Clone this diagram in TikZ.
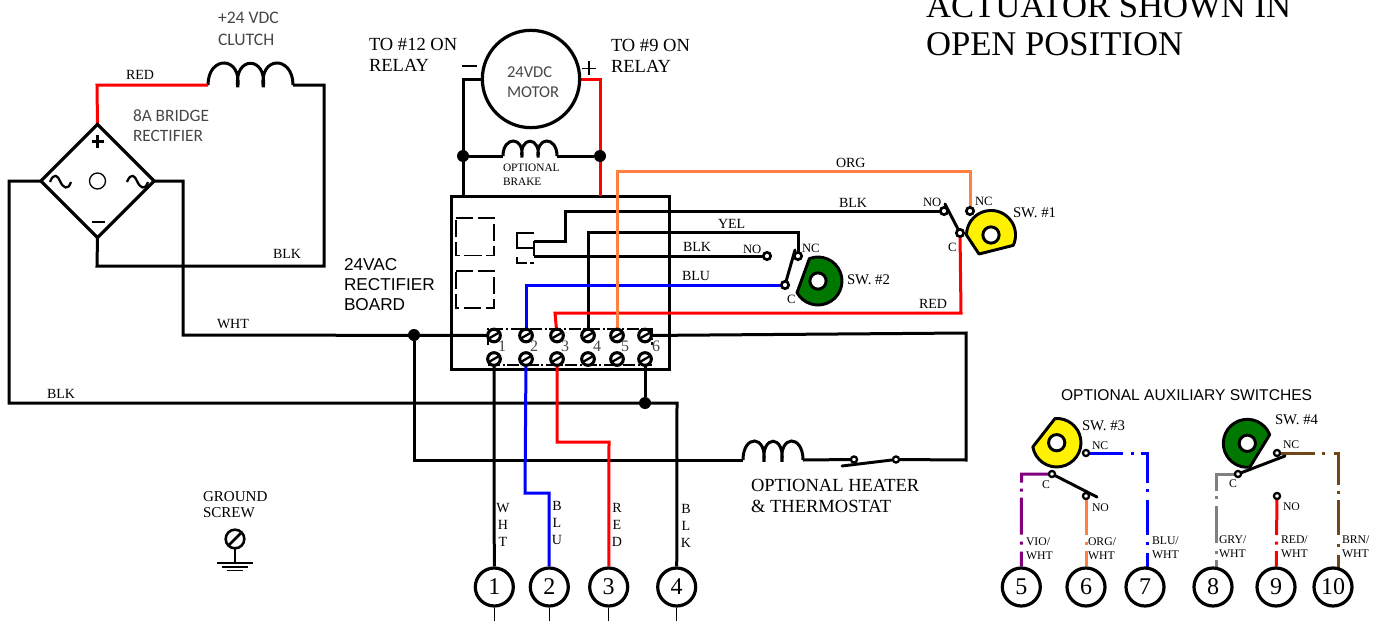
\documentclass[tikz,border=0pt]{standalone}
\usepackage{fontspec}
\setmainfont{Liberation Serif}
\setsansfont{Liberation Sans}
\newfontfamily\cadfont{Carlito}
\usetikzlibrary{shapes.geometric,backgrounds}
\definecolor{wred}{RGB}{255,0,0}
\definecolor{wblue}{RGB}{0,0,255}
\definecolor{worg}{RGB}{255,128,64}
\definecolor{wpur}{RGB}{128,0,128}
\definecolor{wgry}{RGB}{128,128,128}
\definecolor{wbrn}{RGB}{112,72,24}
\definecolor{cgreen}{RGB}{0,120,0}
\definecolor{cad}{gray}{0.28}
\newcommand{\fs}[2]{\fontsize{#1}{#2}\selectfont}
\newcommand{\coilthree}[4]{% x y width height
  \draw[wire] (#1,#2) .. controls (#1,{#2-1.35*#4}) and ({#1+.40*#3},{#2-1.35*#4}) .. ({#1+.35*#3},{#2+.1*#4})
   .. controls ({#1+.30*#3},{#2-1.35*#4}) and ({#1+.70*#3},{#2-1.35*#4}) .. ({#1+.65*#3},{#2+.1*#4})
   .. controls ({#1+.60*#3},{#2-1.35*#4}) and ({#1+1.0*#3},{#2-1.35*#4}) .. ({#1+#3},#2);}
\tikzset{
  x=0.75pt,y=-0.75pt,
  wire/.style={line width=2.25pt,line join=miter,draw=black},
  thin wire/.style={line width=0.9pt,draw=black},
  txt/.style={anchor=base west,inner sep=0pt,outer sep=0pt,align=left,text=black},
  t14/.style={txt,font=\fs{10.5}{12}},
  t18/.style={txt,font=\fs{13.9}{15.4}},
  t11/.style={txt,font=\fs{8.5}{10}},
  tsw/.style={txt,font=\fs{11.1}{12}},
  tno/.style={txt,font=\fs{9.5}{11}},
  taux/.style={txt,font=\fs{8.8}{10.2}},
  tcad/.style={txt,font=\cadfont\fs{13.2}{16},text=cad},
  tnum/.style={txt,font=\fs{12}{14},text=cad},
  tvert/.style={anchor=base,inner sep=0pt,outer sep=0pt,align=center,font=\fs{10.5}{12.4},text=black},
  bigcirc/.style={circle,draw,line width=2.4pt,fill=white,minimum size=28.5pt,inner sep=0pt,font=\fs{18}{19}},
  terminal/.style={circle,draw,line width=2.3pt,fill=white,minimum size=9.5pt,inner sep=0pt,outer sep=0pt},
  ring/.style={circle,draw,line width=2pt,fill=white,minimum size=5.5pt,inner sep=0pt,outer sep=0pt},
  ringaux/.style={circle,draw,line width=1.7pt,fill=white,minimum size=4.6pt,inner sep=0pt,outer sep=0pt},
  junction/.style={circle,fill=black,minimum size=9pt,inner sep=0pt,outer sep=0pt},
  hole/.style={circle,draw,line width=2.2pt,fill=white,minimum size=12.2pt,inner sep=0pt,outer sep=0pt},
  cam/.style={draw,line width=2.2pt,line join=round},
  blade/.style={line width=2.2pt,line cap=round},
  dbox/.style={line width=1.1pt,dash pattern=on 13pt off 3.5pt}
}
\begin{document}
\begin{tikzpicture}
\useasboundingbox (0,0) rectangle (1374,621);
% ---------- texts
\node[txt,font=\fs{26}{30}] (title1) at (926,17) {ACTUATOR SHOWN IN};
\node[txt,font=\fs{26}{30}] (title2) at (926,55) {OPEN POSITION};
\node[tcad] (clutchlbl) at (218,45) {+24 VDC\\CLUTCH};
\node[tcad,font=\cadfont\fs{13}{15}] (bridgelbl) at (133,141) {8A BRIDGE\\RECTIFIER};
\node[tcad,font=\cadfont\fs{12.4}{15}] (motorlbl) at (507,97) {24VDC\\MOTOR};
\node[t14] (lred) at (126,79) {RED};
\node[t14] (lblk) at (273,258) {BLK};
\node[t18] (rel12) at (369,71) {TO \#12 ON\\RELAY};
\node[t18] (rel9) at (611,72) {TO \#9 ON\\RELAY};
\node[t11] (brakelbl) at (503,185) {OPTIONAL\\BRAKE};
\node[t14] (lorg) at (836,167) {ORG};
\node[t14] (lyel) at (718,228) {YEL};
\node[t14] (lblk2) at (839,207) {BLK};
\node[t14] (lblk3) at (683,251) {BLK};
\node[t14] (lblu) at (682,280) {BLU};
\node[t14] (lwht) at (217,328) {WHT};
\node[t14] (lblk4) at (47,398) {BLK};
\node[t14] (lred2) at (919,308) {RED};
\node[tno] (no1) at (923,206) {NO};
\node[tno] (nc1) at (975,205) {NC};
\node[tno] (cc1) at (948,251) {C};
\node[tsw] (sw1) at (1013,217) {SW. \#1};
\node[tno] (no2) at (743,253) {NO};
\node[tno] (nc2) at (802,252) {NC};
\node[tno] (cc2) at (787,303) {C};
\node[tsw] (sw2) at (847,284) {SW. \#2};
\node[txt,font=\sffamily\fs{12.9}{15}] (boardlbl) at (344,310) {24VAC\\RECTIFIER\\BOARD};
\node[txt,font=\sffamily\fs{11.7}{13}] (auxlbl) at (1061,400) {OPTIONAL AUXILIARY SWITCHES};
\node[txt,font=\fs{11.3}{11.8}] (gndlbl) at (203,517) {GROUND\\SCREW};
\node[t18] (heatlbl) at (751,512) {OPTIONAL HEATER\\\& THERMOSTAT};
\node[tvert] (vw) at (503,546) {W\\H\\T};
\node[tvert] (vb) at (557,544) {B\\L\\U};
\node[tvert] (vr) at (617,546) {R\\E\\D};
\node[tvert] (vk) at (686,547) {B\\L\\K};
\node[tsw] (sw3) at (1082,430) {SW. \#3};
\node[tsw] (sw4) at (1275,424) {SW. \#4};
\node[taux] (nc3) at (1092,449) {NC};
\node[taux] (cc3) at (1042,488) {C};
\node[taux] (no3) at (1092,511) {NO};
\node[taux] (nc4) at (1283,448) {NC};
\node[taux] (cc4) at (1229,487) {C};
\node[taux] (no4) at (1283,510) {NO};
\node[taux] (a5) at (1026,559) {VIO/\\WHT};
\node[taux] (a6) at (1088,559) {ORG/\\WHT};
\node[taux] (a7) at (1152,558) {BLU/\\WHT};
\node[taux] (a8) at (1219,557) {GRY/\\WHT};
\node[taux] (a9) at (1281,557) {RED/\\WHT};
\node[taux] (a10) at (1342,557) {BRN/\\WHT};
% ---------- main symbols
\node[diamond,draw,line width=2.4pt,shape aspect=1,minimum width=85pt,minimum height=85pt,inner sep=0pt,outer sep=0pt] (bridge) at (97.5,181) {};
\node[circle,draw,line width=1pt,minimum size=12pt,inner sep=0pt] (bridgehole) at (97.5,181) {};
\node[circle,draw,line width=2.4pt,minimum size=73pt,inner sep=0pt,outer sep=0pt] (motor) at (531,79) {};
\node[junction] (jm) at (463,156) {};
\node[junction] (jp) at (600,156) {};
\node[junction] (jw) at (414,335) {};
\node[junction] (jb) at (645,403) {};
\foreach \i/\x in {1/494,2/526,3/557,4/588,5/617,6/645}{
  \node[terminal] (t\i) at (\x,335.5) {};
  \node[terminal] (b\i) at (\x,359) {};
  \draw[line width=1.7pt] (t\i.210) -- (t\i.30);
  \draw[line width=1.7pt] (b\i.210) -- (b\i.30);
}
\foreach \i/\x in {1/498,2/530,3/561,4/593,5/621,6/652}{
  \node[tnum] (num\i) at (\x,351) {\i};
}
\node[bigcirc] (c1) at (494.3,587) {1};
\node[bigcirc] (c2) at (549.3,587) {2};
\node[bigcirc] (c3) at (608.7,587) {3};
\node[bigcirc] (c4) at (676.7,587) {4};
\node[bigcirc] (c5) at (1021.3,587) {5};
\node[bigcirc] (c6) at (1086,587) {6};
\node[bigcirc] (c7) at (1145,587) {7};
\node[bigcirc] (c8) at (1213,587) {8};
\node[bigcirc] (c9) at (1276,587) {9};
\node[bigcirc] (c10) at (1333,587) {10};
% cams
\draw[cam,fill=yellow] ([shift={(180:18.4pt)}]991,235) arc[start angle=180,end angle=-25,radius=18.4pt] -- (979,254) -- cycle;
\node[hole] (h1) at (991,235) {};
\draw[cam,fill=cgreen] ([shift={(111:18pt)}]818,281) arc[start angle=111,end angle=-151,radius=18pt] -- cycle;
\node[hole] (h2) at (818,281) {};
\draw[cam,fill=yellow] ([shift={(190:18.2pt)}]1056.7,442.7) arc[start angle=190,end angle=454,radius=18.2pt] -- cycle;
\node[hole] (h3) at (1056.7,442.7) {};
\draw[cam,fill=cgreen] ([shift={(21:18pt)}]1247.3,443.3) arc[start angle=21,end angle=276,radius=18pt] -- cycle;
\node[hole] (h4) at (1247.3,443.3) {};
% switch terminals
\node[ring] (s1no) at (944,211) {};
\node[ring] (s1nc) at (970,211) {};
\node[ring] (s1c) at (960,233) {};
\node[ring] (s2no) at (767,256) {};
\node[ring] (s2nc) at (798,256) {};
\node[ring] (s2c) at (785,285) {};
\node[ringaux] (s3nc) at (1086,453) {};
\node[ringaux] (s3c) at (1052,474) {};
\node[ringaux] (s3no) at (1086,496) {};
\node[ringaux] (s4nc) at (1277,453) {};
\node[ringaux] (s4c) at (1238,474) {};
\node[ringaux] (s4no) at (1277,496) {};
\node[ringaux] (htl) at (854,459.5) {};
\node[ringaux] (htr) at (896,459.5) {};
\node[circle,draw,line width=1.9pt,minimum size=14pt,inner sep=0pt,outer sep=0pt] (gnd) at (235,539) {};
\draw[line width=1.9pt] (gnd.225) -- (gnd.45);
% free ends
\coordinate (clL) at (208,85);
\coordinate (clR) at (293,85);
\coordinate (brL) at (503,156);
\coordinate (brR) at (557,156);
\coordinate (heL) at (743,460);
\coordinate (heR) at (803,460);
\coordinate (bt1) at (463,196);
\coordinate (bt2) at (600,196);
\coordinate (bl1) at (534,241);
\coordinate (bl2) at (534,256);
\coordinate (bl1a) at (945,204);
\coordinate (bl2a) at (795,250);
\coordinate (bl3a) at (1097,497);
\coordinate (bl4a) at (1285,456);
\coordinate (bl5a) at (842,466);
\coordinate (g0) at (235,563);
\begin{pgfonlayer}{background}
% board
\draw[wire] (451,196) rectangle (669,369);
\draw[dbox] (456,218) -- (494,218) -- (494,255.5) -- (456,255.5) -- cycle;
\draw[dbox] (456,271) -- (494,271) -- (494,308) -- (456,308) -- cycle;
\draw[line width=1.1pt] (534,233) -- (517,233) -- (517,248) -- (534,248);
\draw[line width=1.1pt] (517,257) -- (517,263) -- (527,263) (530,263) -- (534,263);
\draw[line width=1.1pt] (bl1) -- (bl2);
\draw[line width=1pt,dash pattern=on 9pt off 2pt on 1.5pt off 2pt] (488,345) -- (488,329) -- (652,329) -- (652,345);
\draw[line width=1pt,dash pattern=on 9pt off 2pt on 1.5pt off 2pt] (488,365) -- (652,365);
% black wires
\draw[wire] (bridge.south) -- (97,266) -- (324,266) -- (324,85) -- (clR);
\coilthree{208}{85}{85}{22}
\draw[wire] (bridge.west) -- (9,181) -- (9,403) -- (677,403) -- (c4);
\draw[wire] (bridge.east) -- (183,181) -- (183,335) -- (t1);
\draw[wire] (jw) -- (414,460) -- (heL);
\coilthree{743}{460}{60}{19}
\draw[wire] (heR) -- (htl);
\draw[wire] (htr) -- (966,460) -- (966,333) -- (t6);
\draw[blade] (bl5a) -- (htr);
\draw[wire] (motor.west) -- (463,79) -- (bt1);
\draw[wire] (jm) -- (brL);
\coilthree{503}{156}{54}{15}
\draw[wire] (brR) -- (jp);
\draw[wire] (bl1) -- (565,241) -- (565,211) -- (s1no);
\draw[wire] (bl2) -- (s2no);
\draw[wire] (t4) -- (588,232) -- (798,232) -- (s2nc);
\draw[wire] (b1) -- (c1);
\draw[wire] (b6) -- (jb);
\draw[thin wire] (c1) -- (494.3,621);
\draw[thin wire] (c2) -- (549.3,621);
\draw[thin wire] (c3) -- (608.7,621);
\draw[thin wire] (c4) -- (676.7,621);
% coloured wires
\draw[wire,draw=wred] (bridge.north) -- (97,85) -- (clL);
\draw[wire,draw=wred] (motor.east) -- (600,79) -- (bt2);
\draw[wire,draw=wblue] (t2) -- (526,285) -- (s2c);
\draw[wire,draw=wred] (t3) -- (555,313) -- (961,313) -- (s1c);
\draw[wire,draw=worg] (t5) -- (617,171) -- (970,171) -- (s1nc);
\draw[wire,draw=wblue] (b2) -- (525,493) -- (549,493) -- (c2);
\draw[wire,draw=wred] (b3) -- (557,442) -- (609,442) -- (c3);
% aux wires
\draw[wire,draw=wpur,dash pattern=on 29.25pt off 4.5pt on 2.25pt off 4.5pt on 27.75pt off 5.25pt on 2.25pt off 5.25pt on 30pt off 30pt] (s3c.center) -- (1021.5,474) -- (c5);
\draw[wire,draw=worg,dash pattern=on 29.25pt off 4.9pt on 2.25pt off 4.9pt on 30pt off 30pt] (s3no.center) -- (c6);
\draw[wire,draw=wblue,dash pattern=on 27.75pt off 6pt on 2.25pt off 5.25pt on 27pt off 4.5pt on 2.25pt off 6pt on 26.25pt off 5.25pt on 2.25pt off 6pt on 30pt off 30pt] (s3nc.center) -- (1147.3,453) -- (1147.3,569);
\draw[wire,draw=wgry,dash pattern=on 29.25pt off 4.1pt on 2.25pt off 5.25pt on 27.75pt off 5.6pt on 2.25pt off 4.5pt on 30pt off 30pt] (s4c.center) -- (1216,474) -- (1216,569);
\draw[wire,draw=wred,dash pattern=on 29.25pt off 4.9pt on 2.25pt off 4.9pt on 30pt off 30pt] (s4no.center) -- (c9);
\draw[wire,draw=wbrn,dash pattern=on 28.7pt off 5pt on 2.25pt off 6.45pt on 27.75pt off 4.1pt on 2.25pt off 4.9pt on 26.25pt off 6.75pt on 2.25pt off 6pt on 30pt off 30pt] (s4nc.center) -- (1338.3,453) -- (1338.3,569);
% blades
\draw[blade] (bl1a) -- (s1c);
\draw[blade] (bl2a) -- (s2c);
\draw[blade] (s3c) -- (bl3a);
\draw[blade] (s4c) -- (bl4a);
% bridge symbols
\draw[line width=1.7pt] (91.5,141.5) -- (104,141.5) (97.5,135) -- (97.5,147.5);
\draw[line width=1.3pt] (92,222) -- (105,222);
\draw[line width=1.7pt] (50,182) .. controls (54,172) and (58,176) .. (60,181) .. controls (63,188) and (68,191) .. (71,182);
\draw[line width=1.7pt] (127,182) .. controls (131,172) and (135,176) .. (137,181) .. controls (140,188) and (145,191) .. (148,182);
% motor signs
\draw[line width=1.1pt] (582,68.5) -- (596,68.5) (589,61) -- (589,75);
\draw[line width=1.1pt] (462,66) -- (477,66);
% ground
\draw[line width=1.3pt] (gnd) -- (g0);
\draw[line width=2.2pt] (217,563) -- (253,563);
\draw[line width=1.6pt] (222,567) -- (248,567);
\draw[line width=1.3pt] (227,570.5) -- (243,570.5);
\end{pgfonlayer}
\end{tikzpicture}
\end{document}
